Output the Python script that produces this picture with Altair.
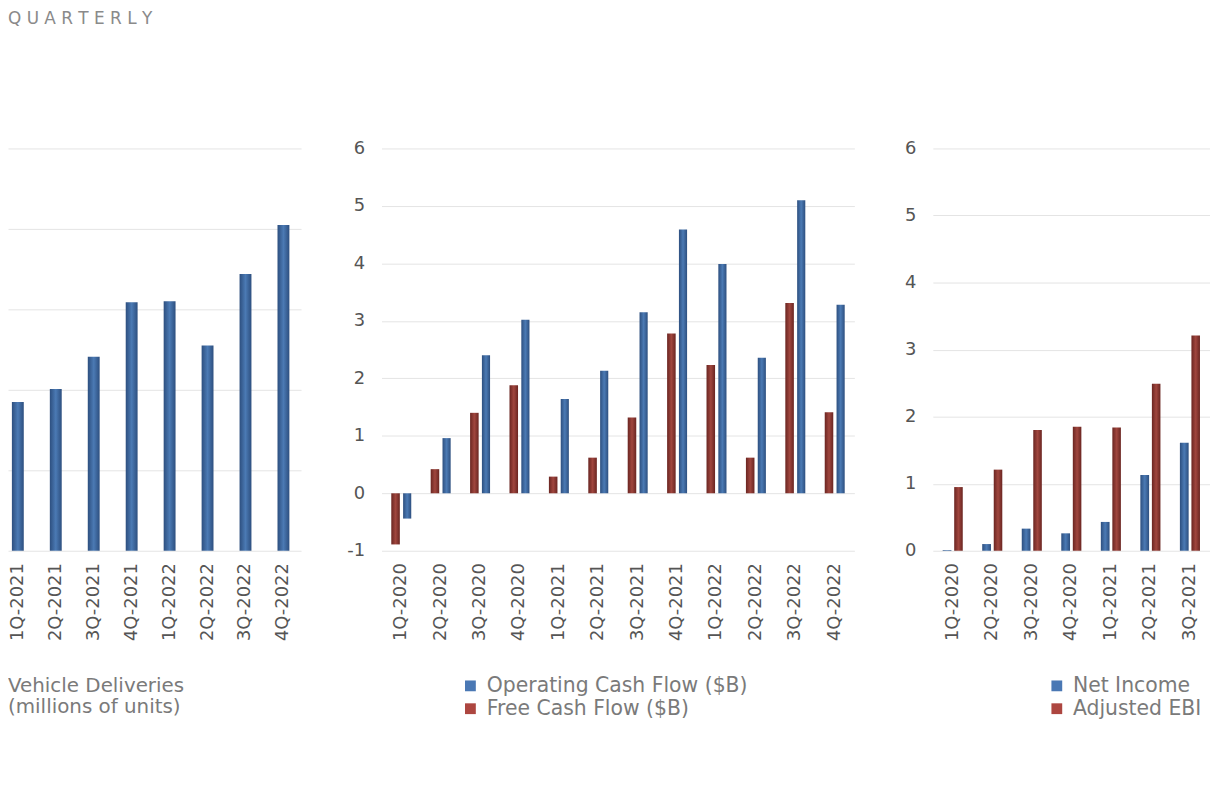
import altair as alt
import pandas as pd

FONT = "DejaVu Sans"

# ---------------- data ----------------
quarters = ["1Q-2020", "2Q-2020", "3Q-2020", "4Q-2020",
            "1Q-2021", "2Q-2021", "3Q-2021", "4Q-2021",
            "1Q-2022", "2Q-2022", "3Q-2022", "4Q-2022"]

delivery_quarters = ["1Q-2021", "2Q-2021", "3Q-2021", "4Q-2021",
                     "1Q-2022", "2Q-2022", "3Q-2022", "4Q-2022"]
deliveries = [0.185, 0.201, 0.241, 0.309, 0.310, 0.255, 0.344, 0.405]

operating_cash_flow = [-0.44, 0.96, 2.40, 3.02, 1.64, 2.13, 3.15, 4.59, 3.99, 2.36, 5.10, 3.28]
free_cash_flow = [-0.89, 0.42, 1.40, 1.88, 0.29, 0.62, 1.32, 2.78, 2.23, 0.62, 3.31, 1.41]

income_quarters = ["1Q-2020", "2Q-2020", "3Q-2020", "4Q-2020",
                   "1Q-2021", "2Q-2021", "3Q-2021"]
net_income = [0.01, 0.10, 0.33, 0.26, 0.43, 1.13, 1.61]
adjusted_ebitda = [0.95, 1.21, 1.80, 1.85, 1.84, 2.49, 3.21]

cash_legend = ["Operating Cash Flow ($B)", "Free Cash Flow ($B)"]
income_legend = ["Net Income ($B)", "Adjusted EBITDA ($B)"]
delivery_label = ["Vehicle Deliveries", "(millions of units)"]

delivery_ticks = [0, 0.1, 0.2, 0.3, 0.4, 0.5]
cash_ticks = [-1, 0, 1, 2, 3, 4, 5, 6]
income_ticks = [0, 1, 2, 3, 4, 5, 6]

# ---------------- styles ----------------
def grad(edge, mid):
    return alt.Gradient(
        gradient="linear", x1=0, x2=1, y1=0, y2=0,
        stops=[alt.GradientStop(offset=0, color=edge),
               alt.GradientStop(offset=0.5, color=mid),
               alt.GradientStop(offset=1, color=edge)])

BLUE = grad("#2d4f7f", "#4b7ab4")
RED = grad("#6a2521", "#a0463e")
BLUE_SQ = "#4a78b4"
RED_SQ = "#ad4640"
LEG_COLOR = "#7a7a7a"
LEG_SIZE = 20.5
H = 405


def x_axis():
    return alt.Axis(labelAngle=-90, labelPadding=12, grid=False, title=None)


def legend_item(label, color, x_sq, x_txt, y, limit=None, size=LEG_SIZE):
    layers = []
    if color is not None:
        layers.append(
            alt.Chart(pd.DataFrame({"label": [label]}))
            .mark_square(size=118, color=color, opacity=1, filled=True)
            .encode(x=alt.value(x_sq), y=alt.value(y)))
    kw = {}
    if limit is not None:
        kw = {"limit": limit, "ellipsis": "\u200b"}
    layers.append(
        alt.Chart(pd.DataFrame({"label": [label]}))
        .mark_text(align="left", baseline="middle", font=FONT, fontSize=size,
                   color=LEG_COLOR, **kw)
        .encode(x=alt.value(x_txt), y=alt.value(y), text="label:N"))
    return layers


# ---------------- left panel: deliveries ----------------
df_del = pd.DataFrame({"quarter": delivery_quarters, "value": deliveries})
left_bars = alt.Chart(df_del).mark_bar(color=BLUE).encode(
    x=alt.X("quarter:N", sort=delivery_quarters,
            scale=alt.Scale(domain=delivery_quarters, paddingInner=0.687,
                            paddingOuter=0.205, align=0.25),
            axis=x_axis()),
    y=alt.Y("value:Q", scale=alt.Scale(domain=[0, 0.5], nice=False),
            axis=alt.Axis(values=delivery_ticks, labels=False, grid=True,
                          minExtent=0, title=None)),
)
left = alt.layer(
    left_bars,
    *legend_item(delivery_label[0], None, 0, 0, 541, size=20),
    *legend_item(delivery_label[1], None, 0, 0, 562, size=20),
).properties(width=295, height=H)

# ---------------- middle panel: cash flow ----------------
df_cash = pd.DataFrame({
    "quarter": quarters,
    "ocf": operating_cash_flow,
    "fcf": free_cash_flow,
})
base_mid = alt.Chart(df_cash).encode(
    x=alt.X("quarter:N", sort=quarters,
            scale=alt.Scale(domain=quarters, paddingInner=0, paddingOuter=0),
            axis=x_axis()),
)
y_mid = alt.Scale(domain=[-1, 6], nice=False, zero=False)
mid = alt.layer(
    base_mid.mark_bar(color=RED, width=8.6, xOffset=-5.7).encode(
        y=alt.Y("fcf:Q", scale=y_mid,
                axis=alt.Axis(values=cash_ticks, labelPadding=17, minExtent=71, grid=True,
                              labelExpr="'' + datum.value", title=None))),
    base_mid.mark_bar(color=BLUE, width=8.2, xOffset=6.0).encode(
        y=alt.Y("ocf:Q", scale=y_mid)),
    *legend_item(cash_legend[0], BLUE_SQ, 89.5, 106, 541),
    *legend_item(cash_legend[1], RED_SQ, 89.5, 106, 564),
).properties(width=476, height=H)

# ---------------- right panel: income ----------------
df_inc = pd.DataFrame({
    "quarter": income_quarters,
    "ni": net_income,
    "ebitda": adjusted_ebitda,
})
base_right = alt.Chart(df_inc).encode(
    x=alt.X("quarter:N", sort=income_quarters,
            scale=alt.Scale(domain=income_quarters, paddingInner=0,
                            paddingOuter=0, range=[0, 278.6]),
            axis=x_axis()),
)
y_right = alt.Scale(domain=[0, 6], nice=False)
right = alt.layer(
    base_right.mark_bar(color=BLUE, width=8.8, xOffset=-5.6).encode(
        y=alt.Y("ni:Q", scale=y_right,
                axis=alt.Axis(values=income_ticks, labelPadding=17, minExtent=69, grid=True,
                              labelExpr="'' + datum.value", title=None))),
    base_right.mark_bar(color=RED, width=8.6, xOffset=5.9).encode(
        y=alt.Y("ebitda:Q", scale=y_right)),
    *legend_item(income_legend[0], BLUE_SQ, 124.8, 141, 541, limit=130),
    *legend_item(income_legend[1], RED_SQ, 124.8, 141, 564, limit=130),
).properties(width=271, height=H)

chart = alt.hconcat(left, mid, right, spacing=10).properties(
    title=alt.TitleParams("Q U A R T E R L Y", anchor="start", fontSize=17,
                          color="#8a8a8a", font=FONT, fontWeight="normal", offset=112),
    padding=0,
).configure_view(stroke=None).configure_axis(
    labelFont=FONT, labelFontSize=18, labelColor="#555555",
    gridColor="#e4e4e4", gridWidth=1, domain=False, ticks=False,
)

chart.save("out.html", embed_options={"renderer": "svg", "actions": False})
